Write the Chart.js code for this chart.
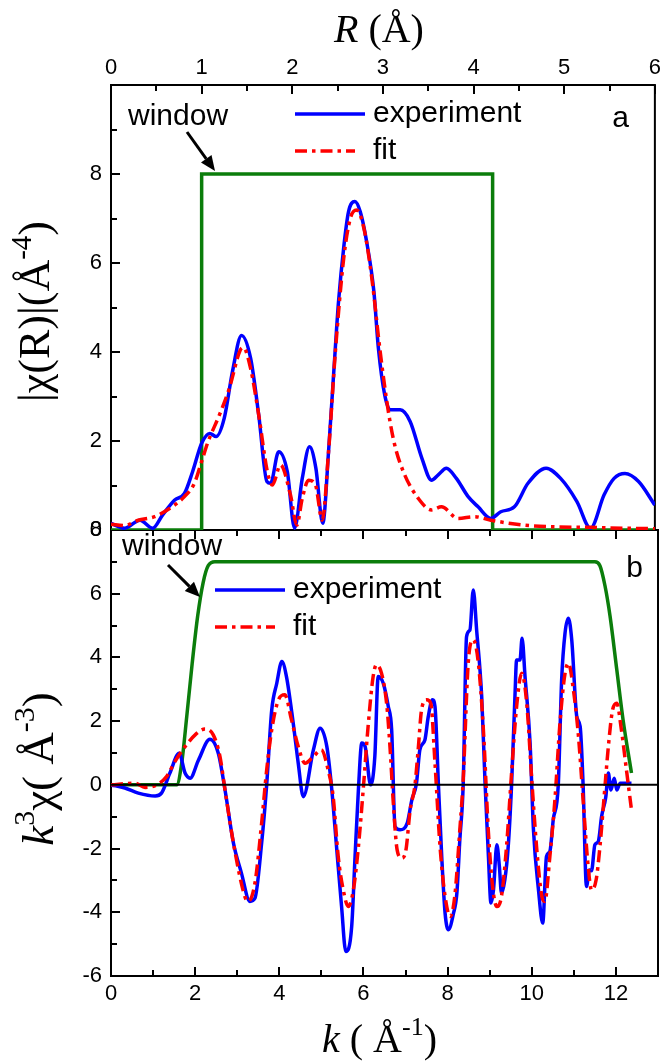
<!DOCTYPE html>
<html>
<head>
<meta charset="utf-8">
<script src="https://cdn.jsdelivr.net/npm/chart.js@4.4.1/dist/chart.umd.min.js"></script>
<style>
  html, body { margin: 0; background: #fff; }
  #wrap { position: relative; width: 665px; height: 1061px; }
  canvas { position: absolute; left: 0; }
  #chartR { top: 0; z-index: 2; }
  #chartK { top: 500px; z-index: 1; }
</style>
</head>
<body>
<div id="wrap">
  <canvas id="chartR" width="665" height="560"></canvas>
  <canvas id="chartK" width="665" height="561"></canvas>
</div>
<script>
// panel a: |chi(R)|
const rExp = [0,0.15,0.32,0.46,0.57,0.70,0.81,0.90,1.0,1.09,
  1.16,1.25,1.34,1.44,1.54,1.63,1.72,1.76,1.85,1.945,
  2.025,2.11,2.19,2.26,2.336,2.40,2.46,2.51,2.57,2.62,
  2.69,2.75,2.82,2.90,2.95,3.02,3.08,3.19,3.30,3.43,
  3.535,3.61,3.70,3.81,3.94,4.05,4.19,4.30,4.45,4.60,
  4.80,4.96,5.14,5.29,5.44,5.55,5.67,5.82,6.0];
const chiRExp = [0.15,0.04,0.22,0.04,0.34,0.67,0.82,1.31,1.95,2.17,
  2.10,2.52,3.56,4.37,3.86,2.58,1.09,1.05,1.76,1.31,
  0.04,1.16,1.87,1.39,0.15,1.76,3.63,5.13,6.40,7.15,
  7.38,7.15,6.48,5.36,4.08,3.03,2.70,2.70,2.44,1.61,
  1.12,1.24,1.39,1.16,0.75,0.52,0.26,0.41,0.52,1.05,
  1.39,1.16,0.64,0.04,0.79,1.16,1.27,1.09,0.56];
const rFit = [0,0.15,0.30,0.48,0.65,0.81,0.92,1.0,1.07,1.195,
  1.305,1.425,1.46,1.54,1.63,1.725,1.78,1.87,1.98,2.05,
  2.11,2.18,2.256,2.33,2.40,2.475,2.567,2.64,2.71,2.79,
  2.877,2.97,3.06,3.13,3.24,3.39,3.535,3.645,3.83,4.01,
  4.19,4.56,4.92,5.29,5.65,6.0];
const chiRFit = [0.13,0.10,0.22,0.30,0.49,0.75,1.05,1.54,1.98,2.58,
  3.18,4.04,4.10,3.63,2.58,1.31,1.01,1.46,0.79,0.11,
  0.71,1.12,1.01,0.22,1.76,4.0,6.1,7.0,7.19,6.78,
  5.66,4.0,2.66,1.91,1.24,0.71,0.45,0.52,0.26,0.30,
  0.22,0.11,0.07,0.06,0.04,0.03];
const rWin = [0,1.0,1.0,4.21,4.21,6];
const winR = [0,0,8,8,0,0];

// panel b: k^3 chi(k)
const kExp = [0,0.33,0.65,1.05,1.20,1.40,1.62,1.76,1.88,2.08,
  2.35,2.55,2.71,2.91,3.10,3.30,3.42,3.58,3.70,3.82,
  3.94,4.06,4.17,4.33,4.45,4.57,4.81,4.97,5.13,5.24,
  5.36,5.48,5.58,5.72,5.80,5.88,5.96,6.04,6.17,6.27,
  6.35,6.47,6.59,6.67,6.75,6.87,7.04,7.15,7.26,7.34,
  7.46,7.54,7.64,7.70,7.78,7.86,7.94,8.02,8.14,8.22,
  8.29,8.37,8.45,8.53,8.61,8.69,8.81,8.89,8.97,9.03,
  9.09,9.17,9.23,9.28,9.36,9.44,9.52,9.60,9.64,9.72,
  9.77,9.84,9.96,10.04,10.16,10.26,10.35,10.43,10.51,10.63,
  10.71,10.79,10.87,10.95,11.07,11.15,11.22,11.30,11.37,11.42,
  11.50,11.58,11.66,11.76,11.82,11.88,11.96,12.02,12.10,12.37];
const chiKExp = [0,-0.10,-0.26,-0.35,-0.26,0.37,0.99,0.37,0.21,0.78,
  1.43,0.99,-0.16,-1.83,-2.77,-3.66,-3.56,-1.83,0,2.35,
  3.19,3.87,3.40,1.94,0.68,-0.37,1.10,1.78,1.20,-0.05,
  -1.94,-3.82,-5.23,-4.45,-2.25,-0.15,1.31,1.20,0,0.89,
  3.40,3.19,2.46,1.73,-1.31,-1.41,-1.20,-0.47,0.05,1.10,
  1.41,2.14,2.67,2.46,0.05,-2.25,-4.03,-4.55,-4.03,-3.4,
  -1.73,0,4.65,4.86,6.12,4.86,2.77,0.05,-2.25,-3.71,
  -3.3,-1.88,-2.56,-3.4,-2.98,-1.94,0,2.77,3.92,3.92,
  4.60,3.4,1.31,-1.41,-3.3,-4.34,-2.25,-2.09,-1.1,0,
  3.3,4.76,5.23,4.55,2.14,1.83,0,-3.19,-2.67,-2.7,
  -1.88,-1.78,-0.99,-0.37,0.37,-0.16,0.21,-0.16,0.05,0.05];
const kFit = [0,0.57,0.81,1.09,1.32,1.52,1.76,2.0,2.23,2.43,
  2.59,2.71,2.91,3.18,3.26,3.42,3.58,3.70,3.82,3.98,
  4.13,4.29,4.45,4.61,4.81,5.0,5.16,5.28,5.40,5.52,
  5.64,5.76,5.88,6.0,6.11,6.23,6.31,6.43,6.55,6.63,
  6.71,6.80,6.91,7.01,7.11,7.22,7.30,7.38,7.50,7.60,
  7.70,7.82,7.94,8.06,8.17,8.29,8.37,8.49,8.61,8.73,
  8.85,8.97,9.07,9.17,9.28,9.40,9.52,9.64,9.76,9.88,
  10.0,10.12,10.24,10.31,10.43,10.55,10.67,10.79,10.87,10.99,
  11.11,11.22,11.34,11.42,11.53,11.62,11.72,11.82,11.92,12.02,
  12.13,12.25,12.37];
const chiKFit = [0,0.05,-0.08,0.0,0.26,0.73,1.20,1.57,1.75,1.57,
  0.89,-0.16,-1.83,-3.5,-3.66,-3.09,-1.2,0.47,1.73,2.67,
  2.83,2.04,1.2,0.68,0.89,1.10,0.47,-0.37,-2.25,-3.3,
  -3.82,-3.3,-1.94,-0.05,1.83,3.40,3.77,3.5,2.56,1.2,
  -0.58,-2.04,-2.30,-2.04,-0.79,-0.05,1.10,2.35,2.67,2.56,
  0.68,-1.94,-3.5,-4.13,-3.5,-1.41,0.16,3.83,4.55,3.83,
  1.73,-1.5,-3.2,-3.82,-3.5,-1.94,0.37,2.46,3.5,2.56,
  0.16,-2.04,-3.5,-3.66,-2.25,-0.47,1.94,3.5,3.82,2.98,
  1.52,-0.47,-2.56,-3.3,-2.98,-1.94,-0.37,1.20,2.35,2.56,
  1.73,0.47,-0.79];
const kWin = [0,1.56,1.68,1.80,1.93,2.06,2.19,2.31,2.47,11.50,11.62,11.74,11.86,12.02,12.17,12.37];
const winK = [0,0,0.68,2.14,3.82,5.3,6.35,6.88,7.0,7.0,6.88,6.25,5.3,3.62,2.04,0.37];

const rTicks = [0, 6, 1];     // min, max, step
const kTicks = [0, 13, 2];
const chiRTicks = [0, 10, 2];
const chiKTicks = [-6, 8, 2];

const BLUE = '#0000ff', RED = '#ff0000', GREEN = '#0b7d0b';
const SANS = '"Liberation Sans", Arial, sans-serif';
const SERIF = '"Liberation Serif", "Times New Roman", serif';
const xy = (xs, ys) => xs.map((x, i) => ({ x: x, y: ys[i] }));

function partFont(p, size) {
  const s = p.sup ? Math.round(size * 0.66) : size;
  return (p.it ? 'italic ' : '') + s + 'px ' + SERIF;
}
function drawRich(ctx, parts, cx, y, size) {
  let w = 0;
  parts.forEach(p => { ctx.font = partFont(p, size); w += ctx.measureText(p.t).width; });
  let x = cx - w / 2;
  ctx.textAlign = 'left';
  ctx.textBaseline = 'alphabetic';
  parts.forEach(p => {
    ctx.font = partFont(p, size);
    ctx.fillText(p.t, x, p.sup ? y - size * 0.42 : y);
    x += ctx.measureText(p.t).width;
  });
}
function arrow(ctx, x0, y0, x1, y1) {
  const ang = Math.atan2(y1 - y0, x1 - x0), L = 15, W = 6.5;
  const bx = x1 - L * Math.cos(ang), by = y1 - L * Math.sin(ang);
  ctx.lineWidth = 3;
  ctx.beginPath(); ctx.moveTo(x0, y0); ctx.lineTo(bx, by); ctx.stroke();
  ctx.beginPath();
  ctx.moveTo(x1, y1);
  ctx.lineTo(bx + W * Math.sin(ang), by - W * Math.cos(ang));
  ctx.lineTo(bx - W * Math.sin(ang), by + W * Math.cos(ang));
  ctx.closePath(); ctx.fill();
}

// box round the plot with inward ticks
const framePlugin = {
  id: 'frame',
  beforeDatasetsDraw(chart, args, o) {
    const ctx = chart.ctx, a = chart.chartArea;
    ctx.save();
    ctx.strokeStyle = '#000';
    ctx.lineWidth = 2;
    ctx.strokeRect(a.left, a.top, a.width, a.height);
    ctx.beginPath();
    o.marks.forEach(m => {
      const s = chart.scales[m.axis];
      const n = Math.round((s.max - s.min) / m.step);
      for (let i = 0; i <= n; i++) {
        const v = s.min + i * m.step;
        const len = Math.abs(v / m.major - Math.round(v / m.major)) < 1e-6 ? 9 : 6;
        const p = Math.round(s.getPixelForValue(v));
        if (m.side === 'left') { ctx.moveTo(a.left, p); ctx.lineTo(a.left + len, p); }
        if (m.side === 'top') { ctx.moveTo(p, a.top); ctx.lineTo(p, a.top + len); }
        if (m.side === 'bottom') { ctx.moveTo(p, a.bottom); ctx.lineTo(p, a.bottom - len); }
      }
    });
    ctx.stroke();
    ctx.restore();
  }
};

// zero line, window note, legend, panel letter, axis titles
const notesPlugin = {
  id: 'notes',
  afterDatasetsDraw(chart, args, o) {
    const ctx = chart.ctx, a = chart.chartArea;
    ctx.save();
    ctx.strokeStyle = '#000';
    ctx.fillStyle = '#000';
    ctx.lineWidth = 2;
    if (o.zeroLine) {
      const y0 = chart.scales.y.getPixelForValue(0);
      ctx.beginPath(); ctx.moveTo(a.left, y0); ctx.lineTo(a.right, y0); ctx.stroke();
    }
    ctx.font = '30px ' + SANS;
    ctx.textAlign = 'left';
    ctx.textBaseline = 'alphabetic';
    ctx.fillText('window', a.left + o.win.tx, a.top + o.win.ty);
    arrow(ctx, a.left + o.win.x0, a.top + o.win.y0, a.left + o.win.x1, a.top + o.win.y1);

    o.legend.rows.forEach(r => {
      const ds = chart.data.datasets.find(d => d.label === r.label);
      const y = a.top + r.dy;
      const x0 = a.left + o.legend.dx;
      ctx.save();
      ctx.strokeStyle = ds.borderColor;
      ctx.lineWidth = ds.borderWidth;
      ctx.setLineDash(ds.borderDash || []);
      ctx.beginPath(); ctx.moveTo(x0, y); ctx.lineTo(x0 + r.len, y); ctx.stroke();
      ctx.restore();
      ctx.textBaseline = 'middle';
      ctx.fillText(ds.label, x0 + o.legend.len + 8, y);
    });

    ctx.textAlign = 'right';
    ctx.textBaseline = 'alphabetic';
    ctx.fillText(o.letter.t, a.right - o.letter.dx, a.top + o.letter.dy);

    const tx = o.xTitle;
    drawRich(ctx, tx.parts, (a.left + a.right) / 2 + tx.dx, tx.side === 'top' ? a.top - tx.dy : a.bottom + tx.dy, tx.size);
    const ty = o.yTitle;
    ctx.translate(a.left - ty.dx, (a.top + a.bottom) / 2 + ty.dy);
    ctx.rotate(-Math.PI / 2);
    drawRich(ctx, ty.parts, 0, 0, ty.size);
    ctx.restore();
  }
};

const tickFont = { family: SANS, size: 22 };
function axis(extra) {
  return Object.assign({
    type: 'linear',
    grid: { display: false, drawTicks: false },
    border: { display: false },
    ticks: { font: tickFont, color: '#000', autoSkip: false, maxRotation: 0 }
  }, extra);
}
const baseOpts = {
  responsive: false,
  animation: false,
  devicePixelRatio: 1,
  elements: { point: { radius: 0 }, line: { borderCapStyle: 'butt' } },
};

new Chart(document.getElementById('chartR'), {
  type: 'line',
  data: {
    datasets: [
      { label: 'fit', data: xy(rFit, chiRFit), borderColor: RED, borderWidth: 3.5, borderDash: [12, 5, 3.5, 5], cubicInterpolationMode: 'monotone' },
      { label: 'experiment', data: xy(rExp, chiRExp), borderColor: BLUE, borderWidth: 3.5, cubicInterpolationMode: 'monotone' },
      { label: 'window', data: xy(rWin, winR), borderColor: GREEN, borderWidth: 3.5, tension: 0 }
    ]
  },
  options: Object.assign({}, baseOpts, {
    layout: { padding: { top: 0, right: 7, bottom: 30, left: 0 } },
    plugins: {
      legend: { display: false }, tooltip: { enabled: false },
      frame: { marks: [
        { axis: 'y', side: 'left', step: 1, major: 2 },
        { axis: 'x', side: 'top', step: 0.5, major: 1 }
      ] },
      notes: {
        zeroLine: false,
        win: { tx: 17, ty: 40, x0: 76, y0: 47, x1: 104, y1: 86 },
        legend: { dx: 184, len: 70, rows: [{ label: 'experiment', dy: 29, len: 70 }, { label: 'fit', dy: 66, len: 60 }] },
        letter: { t: 'a', dx: 26, dy: 42 },
        xTitle: { side: 'top', dx: -4, dy: 43, size: 40, parts: [{ t: 'R', it: true }, { t: ' (Å)' }] },
        yTitle: { dx: 62, dy: 4, size: 44, parts: [{ t: '|χ(R)|(Å' }, { t: '-4', sup: true }, { t: ')' }] }
      }
    },
    scales: {
      x: axis({ position: 'top', min: rTicks[0], max: rTicks[1],
        ticks: Object.assign({}, axis({}).ticks, { stepSize: rTicks[2], padding: 4 }),
        afterFit: s => { s.height = 85; } }),
      y: axis({ min: chiRTicks[0], max: chiRTicks[1],
        ticks: Object.assign({}, axis({}).ticks, { stepSize: chiRTicks[2], padding: 9 }),
        afterBuildTicks: s => { s.ticks = s.ticks.filter(t => t.value < chiRTicks[1]); },
        afterFit: s => { s.width = 111; } })
    }
  }),
  plugins: [framePlugin, notesPlugin]
});

new Chart(document.getElementById('chartK'), {
  type: 'line',
  data: {
    datasets: [
      { label: 'fit', data: xy(kFit, chiKFit), borderColor: RED, borderWidth: 3.5, borderDash: [12, 5, 3.5, 5], cubicInterpolationMode: 'monotone' },
      { label: 'experiment', data: xy(kExp, chiKExp), borderColor: BLUE, borderWidth: 3.5, cubicInterpolationMode: 'monotone' },
      { label: 'window', data: xy(kWin, winK), borderColor: GREEN, borderWidth: 3.5, cubicInterpolationMode: 'monotone' }
    ]
  },
  options: Object.assign({}, baseOpts, {
    layout: { padding: { top: 30, right: 7, bottom: 0, left: 0 } },
    plugins: {
      legend: { display: false }, tooltip: { enabled: false },
      frame: { marks: [
        { axis: 'y', side: 'left', step: 1, major: 2 },
        { axis: 'x', side: 'bottom', step: 1, major: 2 },
        { axis: 'x', side: 'top', step: 1, major: 2 }
      ] },
      notes: {
        zeroLine: true,
        win: { tx: 11, ty: 25, x0: 57, y0: 35, x1: 89, y1: 67 },
        legend: { dx: 104, len: 70, rows: [{ label: 'experiment', dy: 60, len: 70 }, { label: 'fit', dy: 97, len: 60 }] },
        letter: { t: 'b', dx: 15, dy: 47 },
        xTitle: { side: 'bottom', dx: -5, dy: 76, size: 40, parts: [{ t: 'k', it: true }, { t: ' ( Å' }, { t: '-1', sup: true }, { t: ')' }] },
        yTitle: { dx: 58, dy: 16, size: 45, parts: [{ t: 'k', it: true }, { t: '3', sup: true }, { t: 'χ( Å' }, { t: '-3', sup: true }, { t: ')' }] }
      }
    },
    scales: {
      x: axis({ position: 'bottom', min: kTicks[0], max: kTicks[1],
        ticks: Object.assign({}, axis({}).ticks, { stepSize: kTicks[2], padding: 5 }),
        afterBuildTicks: s => { s.ticks = s.ticks.filter(t => t.value <= 12); },
        afterFit: s => { s.height = 85; } }),
      y: axis({ min: chiKTicks[0], max: chiKTicks[1],
        ticks: Object.assign({}, axis({}).ticks, { stepSize: chiKTicks[2], padding: 9 }),
        afterFit: s => { s.width = 111; } })
    }
  }),
  plugins: [framePlugin, notesPlugin]
});
</script>
</body>
</html>
